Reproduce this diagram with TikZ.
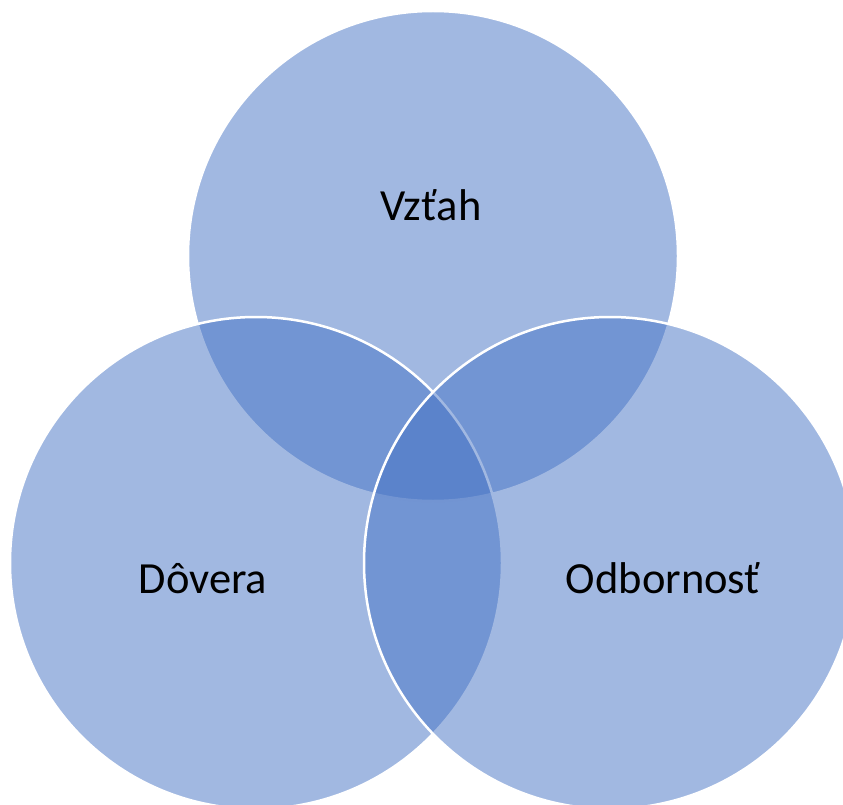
\documentclass[tikz,border=0pt]{standalone}
\usepackage{fontspec}
\setmainfont{Carlito}
\definecolor{venn}{HTML}{4472C4}
\begin{document}
\begin{tikzpicture}[x=1pt,y=-1pt,
  vcircle/.style={fill=venn, fill opacity=0.5, draw=white, draw opacity=1, line width=2.5pt},
  vlabel/.style={anchor=base, font=\fontsize{44.5}{52}\selectfont, text=black, inner sep=0pt}]
\useasboundingbox (0,0) rectangle (843,805);
\clip (0,0) rectangle (843,805);
\draw[vcircle] (433,256) circle[radius=245];
\draw[vcircle] (256,563) circle[radius=246];
\draw[vcircle] (610,563) circle[radius=246];
\node[vlabel] (vztah) at (431,220) {Vzťah};
\node[vlabel] (dovera) at (203,593) {Dôvera};
\node[vlabel] (odbornost) at (663,593) {Odbornosť};
\end{tikzpicture}
\end{document}
